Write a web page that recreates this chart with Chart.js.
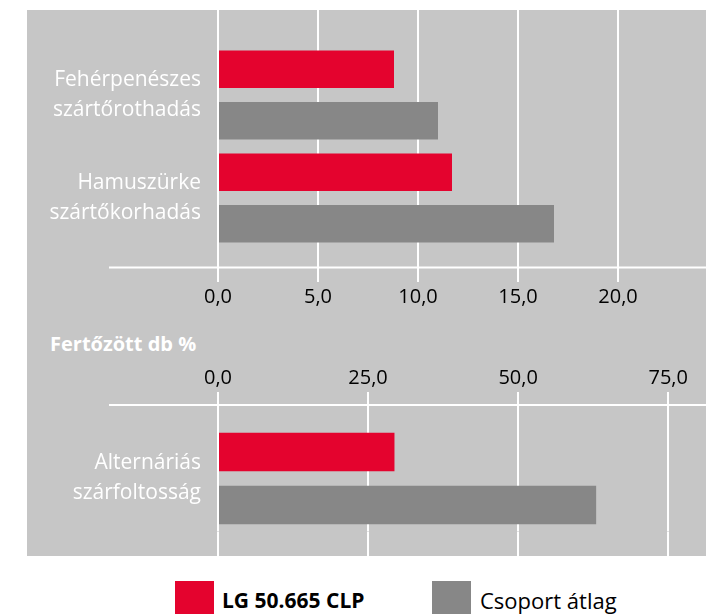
<!DOCTYPE html>
<html>
<head>
<meta charset="utf-8">
<script src="https://cdn.jsdelivr.net/npm/chart.js@4.4.1/dist/chart.umd.min.js"></script>
<style>
    body { margin: 0; background: #fff; width: 715px; height: 614px; overflow: hidden; position: relative; font-family: 'Open Sans', sans-serif; }
    #panel { position: absolute; left: 27px; top: 10px; width: 679px; height: 546px; background: #c6c6c6; }
    #topWrap { position: absolute; left: 0; top: 0; width: 706px; height: 310px; }
    #botWrap { position: absolute; left: 0; top: 360px; width: 706px; height: 196px; }
    #unit { position: absolute; left: 50px; top: 331px; color: #fff; font-weight: bold; font-size: 20px; line-height: 26px; }
    #legend { position: absolute; left: 0; top: 581px; width: 715px; height: 40px; }
    .item { position: absolute; top: 0; height: 40px; }
    .box { position: absolute; left: 0; top: 0; width: 39px; height: 40px; }
    .lbl { position: absolute; top: 5px; white-space: nowrap; color: #000; line-height: 28px; }
</style>
</head>
<body>
<div id="panel"></div>
<div id="topWrap"><canvas id="topChart"></canvas></div>
<div id="unit">Fertőzött db %</div>
<div id="botWrap"><canvas id="botChart"></canvas></div>
<div id="legend"></div>
<script>
'use strict';

// Colours
var red = '#e4032e';
var grey = '#878787';

// ------------------------------------------------------- //
// Data
// ------------------------------------------------------ //
var seriesNames = ["LG 50.665 CLP", "Csoport átlag"];

var topCategories = [["Fehérpenészes", "szártőrothadás"], ["Hamuszürke", "szártőkorhadás"]];
var topHybrid = [8.8, 11.7];
var topGroupAvg = [11.0, 16.8];
var topStep = 5;
var topMax = 24.4;

var bottomCategories = [["Alternáriás", "szárfoltosság"]];
var bottomHybrid = [29.4];
var bottomGroupAvg = [63.0];
var bottomStep = 25;
var bottomMax = 81.3;

var fontFamily = "'Open Sans', sans-serif";

// white line drawn across the chart next to the value axis
var axisLinePlugin = {
    id: 'axisLine',
    beforeDatasetsDraw: function (chart, args, opts) {
        var ctx = chart.ctx;
        var area = chart.chartArea;
        var y = opts.side === 'bottom' ? area.bottom + opts.gap : area.top - opts.gap;
        ctx.save();
        ctx.strokeStyle = '#fff';
        ctx.lineWidth = 2;
        ctx.beginPath();
        ctx.moveTo(opts.from, y);
        ctx.lineTo(area.right, y);
        ctx.stroke();
        ctx.restore();
    }
};

function fmt(v) {
    return Number(v).toFixed(1).replace('.', ',');
}

function makeChart(id, labels, hybrid, avg, step, max, valueSide, valueHeight, otherHeight, lineGap) {
    var otherSide = valueSide === 'bottom' ? 'top' : 'bottom';
    return new Chart(document.getElementById(id), {
        type: 'bar',
        plugins: [axisLinePlugin],
        data: {
            labels: labels,
            datasets: [
                { label: seriesNames[0], data: hybrid, backgroundColor: red },
                { label: seriesNames[1], data: avg, backgroundColor: grey }
            ]
        },
        options: {
            indexAxis: 'y',
            responsive: true,
            maintainAspectRatio: false,
            animation: false,
            categoryPercentage: 1.0,
            barPercentage: 0.73,
            layout: { padding: { top: valueSide === 'bottom' ? 10 : 0, left: 0, right: 0, bottom: 0 } },
            plugins: {
                legend: { display: false },
                tooltip: { enabled: false },
                axisLine: { side: valueSide, gap: lineGap, from: 109 }
            },
            scales: {
                x: {
                    type: 'linear',
                    position: valueSide,
                    min: 0,
                    max: max,
                    border: { display: false },
                    grid: { color: '#ffffff', lineWidth: 2, tickLength: valueSide === 'bottom' ? 32.5 : 33.5, tickColor: '#ffffff', tickWidth: 2 },
                    ticks: {
                        stepSize: step,
                        includeBounds: false,
                        color: '#000',
                        padding: valueSide === 'bottom' ? 3 : 2,
                        font: { family: fontFamily, size: 20 },
                        callback: function (v) { return fmt(v); }
                    },
                    afterFit: function (scale) { scale.height = valueHeight; }
                },
                x2: {
                    type: 'linear',
                    position: otherSide,
                    min: 0,
                    max: max,
                    border: { display: false },
                    grid: { drawOnChartArea: false, color: '#ffffff', lineWidth: 2, tickLength: otherHeight, tickColor: '#ffffff', tickWidth: 2 },
                    ticks: { display: false, stepSize: step, includeBounds: false },
                    afterFit: function (scale) { scale.height = otherHeight; }
                },
                y: {
                    border: { display: false },
                    grid: { display: false, drawTicks: false },
                    ticks: {
                        color: '#ffffff',
                        padding: 17,
                        font: { family: fontFamily, size: 21, lineHeight: 1.43 }
                    },
                    afterFit: function (scale) {
                        scale.width = 218;
                        scale.paddingTop = 0;
                        scale.paddingBottom = 0;
                    }
                }
            }
        }
    });
}

// ------------------------------------------------------- //
// Upper chart (0 - 20 scale)
// ------------------------------------------------------ //
var topChart = makeChart('topChart', topCategories, topHybrid, topGroupAvg, topStep, topMax, 'bottom', 60.5, 33.5, 18);

// ------------------------------------------------------- //
// Lower chart (0 - 75 scale)
// ------------------------------------------------------ //
var botChart = makeChart('botChart', bottomCategories, bottomHybrid, bottomGroupAvg, bottomStep, bottomMax, 'top', 65.5, 24.5, 20.5);

// ------------------------------------------------------- //
// Legend
// ------------------------------------------------------ //
var legendPos = [{ box: 175, text: 222, bold: true, size: 21 }, { box: 432, text: 480, bold: false, size: 22 }];
var legendColors = [red, grey];
var legend = document.getElementById('legend');
seriesNames.forEach(function (name, i) {
    var item = document.createElement('div');
    item.className = 'item';
    item.style.left = legendPos[i].box + 'px';
    var box = document.createElement('div');
    box.className = 'box';
    box.style.background = legendColors[i];
    var lbl = document.createElement('div');
    lbl.className = 'lbl';
    lbl.style.left = (legendPos[i].text - legendPos[i].box) + 'px';
    lbl.style.fontWeight = legendPos[i].bold ? 'bold' : 'normal';
    lbl.style.fontSize = legendPos[i].size + 'px';
    lbl.textContent = name;
    item.appendChild(box);
    item.appendChild(lbl);
    legend.appendChild(item);
});
</script>
</body>
</html>
